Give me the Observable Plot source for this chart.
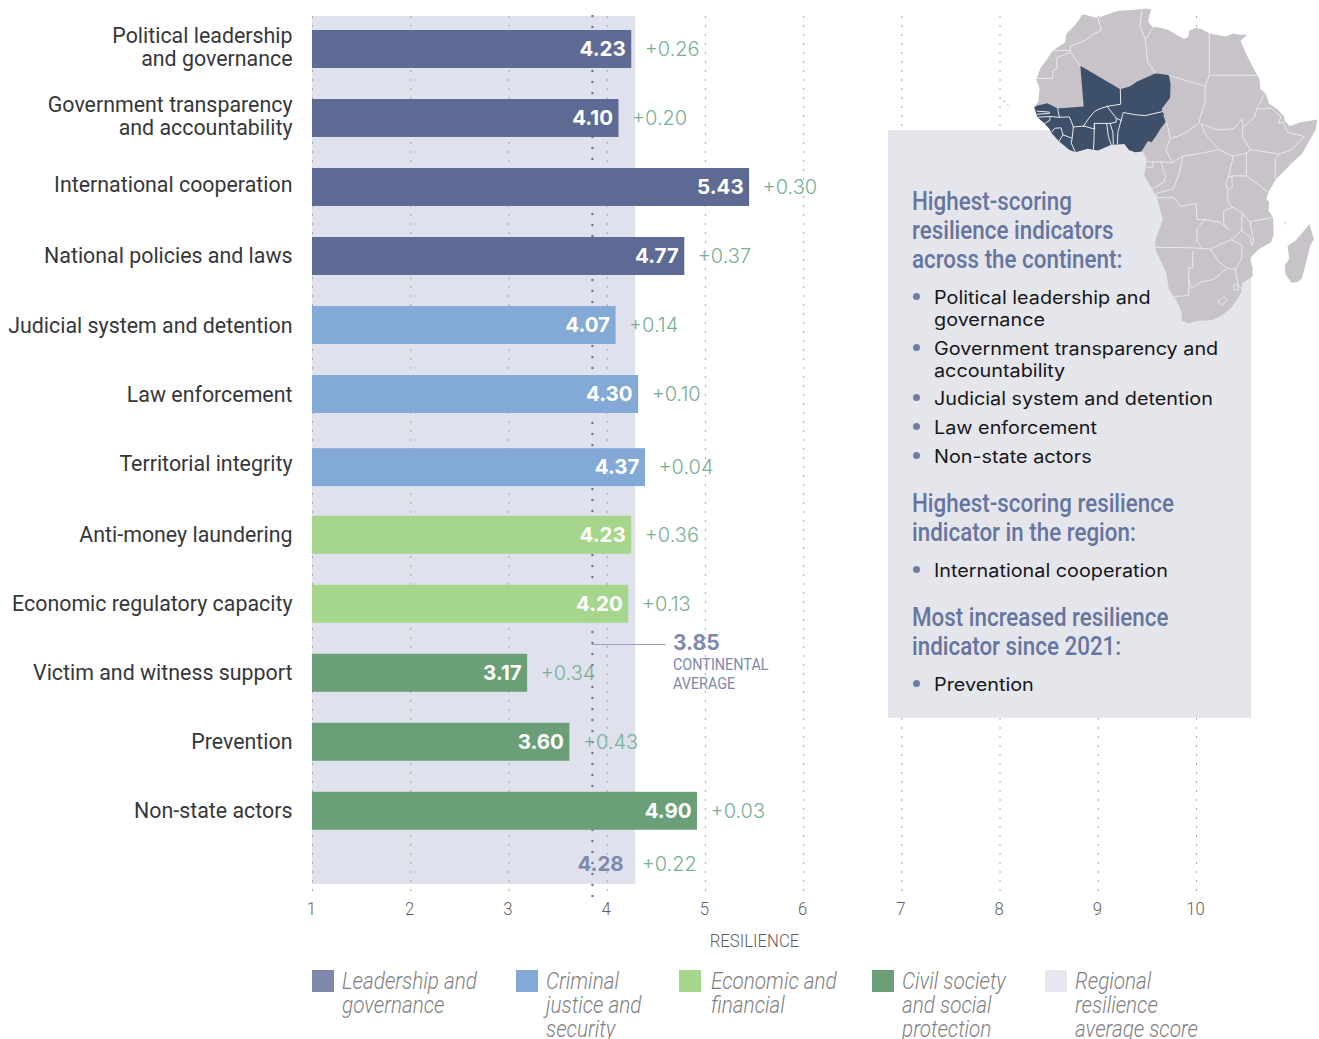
<!DOCTYPE html>
<html><head><meta charset="utf-8">
<script src="https://cdn.jsdelivr.net/npm/d3@7"></script>
<script src="https://cdn.jsdelivr.net/npm/@observablehq/plot@0.6"></script>
<style>
html,body{margin:0;padding:0;background:#fff;width:1319px;height:1039px;overflow:hidden}
#page{position:relative;width:1319px;height:1039px;overflow:hidden}
#box{position:absolute;left:888px;top:130px;width:363px;height:588px;background:#e5e6eb}
#boxText{position:absolute;left:912px;top:0;width:330px}
.h{position:absolute;left:0;font:500 25px/29px Roboto,sans-serif;color:#66759f;white-space:pre;transform:scaleX(.895);transform-origin:0 0}
.li{position:absolute;left:22px;font:400 18px/21.5px Inter,sans-serif;color:#17171c;white-space:pre}
.li span{display:inline-block;transform:scaleX(1.1);transform-origin:0 0}
.li::before{content:"";position:absolute;left:-21px;top:6px;width:7px;height:7px;border-radius:50%;background:#6f7da3}
.lg{position:absolute;top:970px;height:69px}
.lg i.s{position:absolute;left:0;top:0;width:22px;height:22px}
.lg span{position:absolute;top:0;font:italic 300 23px/24px Roboto,sans-serif;color:#7f7f83;white-space:pre;transform:scaleX(.9);transform-origin:0 0}
</style></head><body><div id="page"></div>
<script>
// ---- chart data
const indicators = ["Political leadership\nand governance","Government transparency\nand accountability","International cooperation","National policies and laws","Judicial system and detention","Law enforcement","Territorial integrity","Anti-money laundering","Economic regulatory capacity","Victim and witness support","Prevention","Non-state actors"];
const scores = [4.23,4.10,5.43,4.77,4.07,4.30,4.37,4.23,4.20,3.17,3.60,4.90];
const changes = ["+0.26","+0.20","+0.30","+0.37","+0.14","+0.10","+0.04","+0.36","+0.13","+0.34","+0.43","+0.03"];
const groups = ["L","L","L","L","C","C","C","E","E","S","S","S"];
const rowOrder = [0,1,2,3,4,5,6.06,7.04,8.04,9.04,10.04,11.04];
const labelOrder = [-0.03,0.97,1.97,2.99,4,5,6,7.04,8.04,9.04,10.03,11.04];
const groupKeys = ["L","C","E","S"];
const groupColors = ["#5d6b94","#83a9d6","#a6d68c","#6a9f78"];
const regionScore = 4.28, regionChange = "+0.22", regionRow = 11.81;
const continental = 3.85;
const xTicks = [1,2,3,4,5,6,7,8,9,10];
const legendLabels = ["Leadership and\ngovernance","Criminal\njustice and\nsecurity","Economic and\nfinancial","Civil society\nand social\nprotection","Regional\nresilience\naverage score"];
const legendColors = ["#7f89ae","#83a9d6","#a6d68c","#6a9f78","#e6e7f0"];
const headings = [["Highest-scoring\nresilience indicators\nacross the continent:",187],["Highest-scoring resilience\nindicator in the region:",489],["Most increased resilience\nindicator since 2021:",603]];
const listItems = [["Political leadership and\ngovernance",287],["Government transparency and\naccountability",338],["Judicial system and detention",388],["Law enforcement",417],["Non-state actors",446],["International cooperation",560],["Prevention",674]];

// ---- map data (lon, lat)
const africa = [[-5.9,35.8],[-5.3,35.9],[-3,35.3],[-2,35.1],[-0.6,35.7],[3,36.8],[7,37],[9.8,37.3],[11,37],[10.5,36],[10.2,34.3],[11.1,33.2],[13.2,32.9],[15.2,32.3],[18,30.8],[19,30.3],[20,31],[20.1,32.2],[21.7,32.9],[23.1,32.6],[25,31.6],[29,30.9],[30,31.3],[31,31.6],[32.3,31.3],[34.2,31.3],[32.6,29.9],[33.8,27.2],[35.5,24],[37.2,21],[37.4,18.8],[38.6,18],[39.5,15.5],[41.2,14.5],[43.1,12.7],[43.3,11.6],[44.5,10.4],[47,11.2],[51.2,11.9],[50.8,9.5],[49,6.5],[47.5,4],[45,1.9],[42.5,-0.5],[41,-2],[39.5,-4.5],[38.8,-6.3],[39.5,-7],[39.4,-9],[40.5,-10.5],[40.6,-14.5],[40,-16.2],[37,-17.8],[34.9,-19.8],[35.5,-22],[35.5,-24],[33,-25.5],[32.8,-27.5],[32,-29],[30.5,-31],[28,-33],[25.7,-34],[22,-34.2],[20,-34.8],[18.4,-34.2],[18.2,-32],[17,-29.5],[15.2,-27],[14.5,-23],[13,-20],[11.8,-17.5],[12,-15.5],[13.7,-11],[13,-8.5],[12.3,-6],[11,-3.8],[9.2,-1],[9.5,1],[9.8,3],[8.9,4.5],[7,4.4],[5.5,4.9],[4.4,6.3],[1.2,6.1],[-2,4.8],[-4.5,5.2],[-7.5,4.4],[-9,5],[-11.5,6.9],[-13.3,8.8],[-13.7,9.6],[-15,11],[-16.7,12.4],[-17.5,14.7],[-16.5,16],[-16.2,19],[-17,21],[-16,23.7],[-14.9,25],[-13,27.7],[-10,29.5],[-9.7,31.5],[-7.5,33.6],[-5.9,35.8]];
const madagascar = [[49.3,-12],[50.4,-15.5],[49.5,-17],[47.5,-24.5],[46.5,-25.2],[45,-25.5],[43.5,-23.5],[43.3,-21.5],[44.4,-20],[44,-17],[46,-15.8],[48,-13.5],[49.3,-12]];
const westAfrica = [[-16.7,15.1],[-14.3,15.6],[-11.8,14.4],[-5.5,14.9],[-6.3,24.2],[3.4,18.8],[5.8,19.5],[7.5,20.6],[12,22.5],[15.2,22],[15.6,20],[15.5,16.9],[13.5,14.4],[13.6,13.7],[14.1,13],[14.6,11.5],[13.3,10],[12.2,8.3],[11,6.7],[10.1,7],[8.8,5],[8.5,4.6],[7,4.4],[5.5,4.9],[4.4,6.3],[1.2,6.1],[-2,4.8],[-4.5,5.2],[-7.5,4.4],[-9,5],[-11.5,6.9],[-13.3,8.8],[-13.7,9.6],[-15,11],[-16.7,12.4],[-17.5,14.7],[-16.7,15.1]];
const islands = [[[-25.2,16.2],[-24.6,16]],[[-24,15.3],[-23.6,15]],[[43.3,-11.6],[43.6,-12]]];
const borders = [
[[3.4,18.8],[3.5,15.4],[0.2,14.9]],[[0.2,14.9],[-2,14.2],[-3,13.6],[-4.4,12],[-5.5,10.4]],[[-11.8,14.4],[-11.4,12.4]],[[-11.4,12.4],[-9,12.5],[-8.5,11.5],[-8,10.2]],[[-8,10.2],[-5.5,10.4]],
[[0.2,14.9],[2.4,12.2],[3.6,11.7]],[[3.6,11.7],[4.1,13.5],[7,13],[9.5,12.8],[13.6,13.7]],[[2.4,12.2],[2.4,11.3],[0.9,11],[-2.9,11]],[[-2.9,11],[-2.8,9.7],[-5.5,10.4]],
[[0.1,11],[0.5,8],[1.2,6.1]],[[0.9,11],[1.6,9],[1.7,6.2]],[[2.7,6.4],[2.8,9],[3.6,11.7]],[[-2.9,11],[-3,7],[-3.1,5.1]],[[-7.5,4.4],[-8.5,6.5],[-8.3,7.6],[-8,10.2]],
[[-8.3,7.6],[-10.5,8.4],[-11.5,6.9]],[[-10.5,8.4],[-11,10],[-12.5,9.9],[-13.2,9.1]],[[-11.4,12.4],[-13.7,12.6],[-16.7,12.4]],[[-13.7,12.6],[-13.7,11.7],[-15,11]],[[-16.8,13.8],[-13.8,13.6],[-13.8,13.3],[-16.8,13.1]],
[[-2,35.1],[-1.2,32.3],[-3.6,31.2],[-5,30],[-8.7,28.7]],[[-8.7,27.7],[-13,27.7]],[[-8.7,28.7],[-8.7,27.3],[-6.3,24.2]],[[-8.7,27.3],[-12,26],[-12,23.5],[-13,23],[-13,21.3],[-17,21.3]],
[[8.6,36.9],[8.2,33],[9.5,30.2],[10,25],[12,22.5]],[[9.5,30.2],[11.5,33.2]],[[15.2,22],[24,19.5]],[[25,31.6],[25,22],[24,19.5],[24,15.7],[22.9,12.8],[22.5,11]],[[25,22],[37,22]],
[[22.5,11],[18.5,8.5],[15.5,7.5]],[[14,12.9],[15,10],[15.5,7.5],[14.5,5],[16,2]],[[9.8,2.2],[13.3,2.2],[16,2]],[[11.3,2.2],[11.3,1],[9.5,1]],[[13.2,2.2],[14.4,-1],[14,-2.5],[11.2,-3.9]],[[12.2,-5],[16.2,-4],[17.7,-0.5],[18.6,3.5]],
[[16,2],[18.6,3.5],[22,4],[27.4,5]],[[27.4,5],[24,8.6],[23,10.9]],[[23,10.9],[27,9.5],[31,9.8],[33,12],[33.2,10],[33,8],[35,5]],[[33.2,10],[36,12.5],[36.5,14.3],[38.6,18]],[[36.5,14.3],[40,14.5],[42.4,12.5],[41.8,11],[43.2,11.4]],[[43,11],[44,9],[48,8],[45,5],[42,4]],[[35,5],[42,4],[41,2.8],[41,-1.7]],
[[27.4,5],[30.8,3.5],[34,4.2],[35,5]],[[34,4.2],[34,-1]],[[30.8,3.5],[29.6,-1.4]],[[30.5,-1],[34,-1],[39.3,-4.7]],[[29.6,-1.4],[30.5,-1],[30.5,-2.4],[30.8,-3.3],[29.4,-4.4],[29,-2.7],[29.6,-1.4]],[[29.4,-4.4],[29.6,-7],[30.7,-8.2],[33,-9.5],[34.8,-11.5],[40.4,-10.5]],
[[33,-9.5],[32.8,-13.5],[35,-15],[35.2,-17],[35.8,-16],[34.9,-11.5]],[[30.7,-8.2],[28.5,-9],[28.5,-12],[29.8,-13.4],[27.5,-11.6],[24,-11],[22,-11],[21.8,-7.3],[18,-8],[16.5,-6],[12.2,-6],[12.2,-5]],[[24,-11],[22,-13],[22,-16],[23.4,-17.6]],[[11.8,-17.3],[14,-17.4],[18.5,-17.4],[23.4,-17.6],[25.2,-17.8],[28,-16.5],[30.4,-15.6],[32.8,-13.5]],
[[30.4,-15.6],[33,-17],[32.8,-20],[31.3,-22.4],[32,-26],[32.9,-26.9]],[[25.2,-17.8],[27.5,-20.8],[29.3,-22.2],[31.3,-22.4]],[[21,-18.3],[21,-22],[20,-22],[20,-28.4],[16.5,-28.6]],[[20,-24.8],[20.7,-26.8],[23,-25.3],[26,-24.7],[29.3,-22.2]],[[27,-29.7],[28.5,-28.7],[29.4,-29.5],[28,-30.6],[27,-29.7]],[[31,-25.8],[32,-26],[32,-27.2],[31,-27],[31,-25.8]]];

const rows = indicators.map((label,i)=>({label,score:scores[i],change:changes[i],group:groups[i],row:rowOrder[i],labelRow:labelOrder[i]}));
const condensed = 'Roboto,sans-serif', wide = 'Inter,sans-serif';
const page = document.getElementById("page");

const chart = Plot.plot({
  width:1319, height:960, marginTop:16, marginBottom:62, marginLeft:312, marginRight:123,
  style:{position:"absolute",left:"0",top:"0"},
  x:{domain:[1,10],range:[312,1196]},
  y:{domain:[-0.478,12.304],range:[16,898],axis:null},
  color:{domain:groupKeys,range:groupColors},
  marks:[
    Plot.rectX([regionScore],{x1:1,x2:d=>d,y1:-0.478,y2:12.101,fill:"#dfe2ec",insetRight:-1}),
    Plot.ruleX(xTicks,{stroke:"#a8a9ad",strokeDasharray:"2,7"}),
    Plot.ruleX([continental],{stroke:"#6f78a5",strokeWidth:2.6,strokeDasharray:"0,11",strokeLinecap:"round"}),
    Plot.rectX(rows,{x1:1,x2:"score",y1:d=>d.row-0.275,y2:d=>d.row+0.275,fill:"group",insetRight:-2}),
    Plot.text(rows,{x:1,y:"labelRow",text:"label",textAnchor:"end",dx:-20,lineHeight:0.96,fontFamily:condensed,fontSize:23,fill:"#36373b"}),
    Plot.text(rows,{x:"score",y:"row",text:d=>d.score.toFixed(2),textAnchor:"end",dx:-4,fontFamily:wide,fontWeight:700,fontSize:20.5,fill:"#fff"}),
    Plot.text(rows,{x:"score",y:"row",text:"change",textAnchor:"start",dx:15,fontFamily:wide,fontWeight:300,fontSize:20,fill:"#79b095"}),
    Plot.text([regionScore],{x:d=>d,y:regionRow,text:d=>d.toFixed(2),textAnchor:"end",dx:-11,fontFamily:wide,fontWeight:700,fontSize:20.5,fill:"#7e89ae"}),
    Plot.text([regionChange],{x:regionScore,y:regionRow,text:d=>d,textAnchor:"start",dx:7,fontFamily:wide,fontWeight:300,fontSize:20,fill:"#79b095"}),
    Plot.ruleY([8.623],{x1:continental,x2:4.6,stroke:"#96a0c0"}),
    Plot.text([continental],{x:4.67,y:8.6,text:d=>d.toFixed(2),textAnchor:"start",fontFamily:wide,fontWeight:700,fontSize:21,fill:"#7e89ae"}),
    Plot.text(["CONTINENTAL\nAVERAGE"],{x:4.67,y:9.04,text:d=>d,textAnchor:"start",lineHeight:1.2,fontFamily:condensed,fontSize:16,fill:"#7e89ae"}),
    Plot.axisX(xTicks,{anchor:"bottom",tickSize:0,tickPadding:4,dx:-1,fontFamily:condensed,fontWeight:300,fontSize:18,fill:"#5f5f63",tickFormat:d=>d,label:"RESILIENCE",labelAnchor:"center",labelArrow:"none",labelOffset:48})
  ]
});
// The reference's condensed face is not installed, so narrow the installed one.
const squeeze = {"23":0.93,"16":0.9,"18":0.93};
for (const [size,k] of Object.entries(squeeze))
  chart.querySelectorAll(`g[font-size="${size}"] text`).forEach(t=>t.setAttribute("transform",(t.getAttribute("transform")||"")+` scale(${k},1)`));
page.append(chart);

const box=document.createElement("div");box.id="box";page.append(box);

// Scale reads the lon/lat outlines on to the picture's slightly stretched map.
const mapProjection = d3.geoTransform({point(lon,lat){this.stream.point(1147+4.12*(lon-10),8+4.37*(37.3-lat));}});
const mapPlot = Plot.plot({
  width:1319,height:340,margin:0,
  style:{position:"absolute",left:"0",top:"0",background:"transparent"},
  projection:mapProjection,
  marks:[
    Plot.geo([{type:"Polygon",coordinates:[africa]},{type:"Polygon",coordinates:[madagascar]}],{fill:"#c8c3c9"}),
    Plot.geo([{type:"Polygon",coordinates:[westAfrica]}],{fill:"#3e5069"}),
    Plot.geo([{type:"MultiLineString",coordinates:borders}],{stroke:"#e9e9ec",strokeWidth:1}),
    Plot.geo([{type:"MultiLineString",coordinates:islands}],{stroke:"#dcdce2",strokeWidth:1.5})
  ]
});
page.append(mapPlot);

const boxText=document.createElement("div");boxText.id="boxText";
headings.forEach(([t,top])=>{const e=document.createElement("div");e.className="h";e.textContent=t;e.style.top=top+"px";boxText.append(e);});
listItems.forEach(([t,top])=>{const e=document.createElement("div");e.className="li";const s=document.createElement("span");s.textContent=t;e.append(s);e.style.top=top+"px";boxText.append(e);});
page.append(boxText);

const legendX=[312,516,679,872,1045], legendOffset=[30,30,32,30,30];
legendLabels.forEach((t,i)=>{
  const g=document.createElement("div");g.className="lg";g.style.left=legendX[i]+"px";
  const s=document.createElement("i");s.className="s";s.style.background=legendColors[i];
  const l=document.createElement("span");l.textContent=t;l.style.left=legendOffset[i]+"px";
  g.append(s,l);page.append(g);
});
</script></body></html>
